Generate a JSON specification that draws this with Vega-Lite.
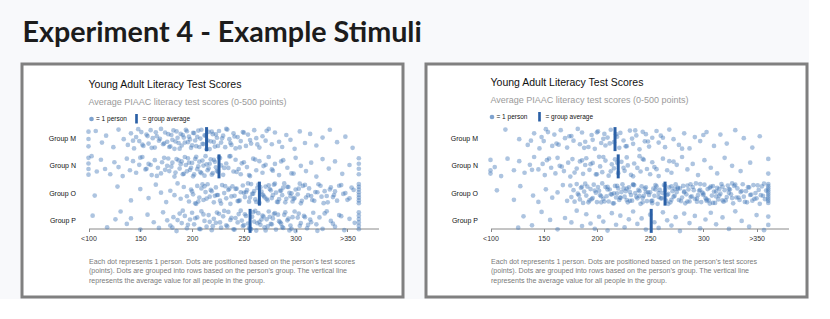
{
"$schema": "https://vega.github.io/schema/vega-lite/v6.json",
"background": "#f8f9fb",
"padding": {"left": 20, "top": 18, "right": 0, "bottom": 0},
"title": {"text": "Experiment 4 - Example Stimuli", "anchor": "start", "font": "Lato", "fontWeight": "bold", "fontSize": 28.7, "color": "#1c1c1c", "offset": 15, "dx": 2},
"spacing": 19,
"resolve": {"scale": {"x": "independent", "y": "independent", "color": "independent"}, "legend": {"color": "independent"}, "axis": {"x": "independent", "y": "independent"}},
"config": {"view": {"stroke": "#808080", "strokeWidth": 3, "fill": "#ffffff"}, "font": "Liberation Sans"},
"datasets": {
"LA": [{"g":"M","s":214},{"g":"N","s":226},{"g":"O","s":265},{"g":"P","s":256}],
"RA": [{"g":"M","s":217},{"g":"N","s":220},{"g":"O","s":264},{"g":"P","s":251}],
"L": [
{"g":"M","s":100,"j":0.15},{"g":"M","s":100,"j":0.5},{"g":"M","s":100,"j":0.85},{"g":"M","s":107,"j":0.12},{"g":"M","s":113,"j":0.67},{"g":"M","s":117,"j":0.34},{"g":"M","s":124,"j":0.89},{"g":"M","s":129,"j":0.05},{"g":"M","s":134,"j":0.51},{"g":"M","s":138,"j":0.78},{"g":"M","s":141,"j":0.23},{"g":"M","s":144,"j":0.95},{"g":"M","s":146,"j":0.41},{"g":"M","s":149,"j":0.60},{"g":"M","s":151,"j":0.17},{"g":"M","s":153,"j":0.83},{"g":"M","s":156,"j":0.29},{"g":"M","s":158,"j":0.72},{"g":"M","s":160,"j":0.08},{"g":"M","s":162,"j":0.46},{"g":"M","s":164,"j":0.91},{"g":"M","s":166,"j":0.37},{"g":"M","s":168,"j":0.58},{"g":"M","s":170,"j":0.02},{"g":"M","s":172,"j":0.75},{"g":"M","s":174,"j":0.19},{"g":"M","s":176,"j":0.63},{"g":"M","s":178,"j":0.88},{"g":"M","s":180,"j":0.31},{"g":"M","s":181,"j":0.54},{"g":"M","s":183,"j":0.97},{"g":"M","s":185,"j":0.14},{"g":"M","s":187,"j":0.69},{"g":"M","s":189,"j":0.26},{"g":"M","s":190,"j":0.81},{"g":"M","s":192,"j":0.43},{"g":"M","s":194,"j":0.06},{"g":"M","s":196,"j":0.65},{"g":"M","s":197,"j":0.39},{"g":"M","s":199,"j":0.92},{"g":"M","s":201,"j":0.21},{"g":"M","s":203,"j":0.57},{"g":"M","s":204,"j":0.84},{"g":"M","s":206,"j":0.10},{"g":"M","s":208,"j":0.48},{"g":"M","s":210,"j":0.73},{"g":"M","s":212,"j":0.33},{"g":"M","s":214,"j":0.99},{"g":"M","s":216,"j":0.16},{"g":"M","s":218,"j":0.61},{"g":"M","s":220,"j":0.27},{"g":"M","s":222,"j":0.86},{"g":"M","s":224,"j":0.44},{"g":"M","s":226,"j":0.12},{"g":"M","s":228,"j":0.67},{"g":"M","s":230,"j":0.34},{"g":"M","s":232,"j":0.89},{"g":"M","s":234,"j":0.05},{"g":"M","s":236,"j":0.51},{"g":"M","s":238,"j":0.78},{"g":"M","s":240,"j":0.23},{"g":"M","s":242,"j":0.95},{"g":"M","s":244,"j":0.41},{"g":"M","s":247,"j":0.60},{"g":"M","s":249,"j":0.17},{"g":"M","s":252,"j":0.83},{"g":"M","s":254,"j":0.29},{"g":"M","s":257,"j":0.72},{"g":"M","s":260,"j":0.08},{"g":"M","s":262,"j":0.46},{"g":"M","s":265,"j":0.91},{"g":"M","s":268,"j":0.37},{"g":"M","s":271,"j":0.58},{"g":"M","s":274,"j":0.02},{"g":"M","s":277,"j":0.75},{"g":"M","s":280,"j":0.19},{"g":"M","s":284,"j":0.63},{"g":"M","s":287,"j":0.88},{"g":"M","s":291,"j":0.31},{"g":"M","s":295,"j":0.54},{"g":"M","s":299,"j":0.97},{"g":"M","s":304,"j":0.14},{"g":"M","s":309,"j":0.69},{"g":"M","s":314,"j":0.26},{"g":"M","s":320,"j":0.81},{"g":"M","s":326,"j":0.43},{"g":"M","s":333,"j":0.06},{"g":"M","s":340,"j":0.65},{"g":"M","s":348,"j":0.39},{"g":"M","s":355,"j":0.92},
{"g":"M","s":143,"j":0.58},{"g":"M","s":148,"j":0.03},{"g":"M","s":152,"j":0.77},{"g":"M","s":157,"j":0.36},{"g":"M","s":161,"j":0.92},{"g":"M","s":165,"j":0.18},{"g":"M","s":169,"j":0.49},{"g":"M","s":173,"j":0.71},{"g":"M","s":177,"j":0.27},{"g":"M","s":179,"j":0.85},{"g":"M","s":182,"j":0.09},{"g":"M","s":184,"j":0.62},{"g":"M","s":186,"j":0.44},{"g":"M","s":188,"j":0.96},{"g":"M","s":191,"j":0.31},{"g":"M","s":193,"j":0.67},{"g":"M","s":195,"j":0.13},{"g":"M","s":198,"j":0.52},{"g":"M","s":200,"j":0.8},{"g":"M","s":202,"j":0.22},{"g":"M","s":205,"j":0.4},{"g":"M","s":207,"j":0.88},{"g":"M","s":209,"j":0.06},{"g":"M","s":211,"j":0.74},{"g":"M","s":213,"j":0.33},{"g":"M","s":215,"j":0.57},{"g":"M","s":217,"j":0.98},{"g":"M","s":219,"j":0.15},{"g":"M","s":221,"j":0.64},{"g":"M","s":223,"j":0.28},{"g":"M","s":225,"j":0.83},{"g":"M","s":229,"j":0.47},{"g":"M","s":233,"j":0.02},{"g":"M","s":237,"j":0.69},{"g":"M","s":241,"j":0.38},{"g":"M","s":246,"j":0.9},{"g":"M","s":250,"j":0.2},{"g":"M","s":256,"j":0.55},{"g":"M","s":263,"j":0.76},{"g":"M","s":272,"j":0.11},
{"g":"N","s":100,"j":0.1},{"g":"N","s":100,"j":0.37},{"g":"N","s":100,"j":0.63},{"g":"N","s":100,"j":0.9},{"g":"N","s":361,"j":0.12},{"g":"N","s":361,"j":0.38},{"g":"N","s":361,"j":0.62},{"g":"N","s":361,"j":0.88},
{"g":"N","s":103,"j":0.02},{"g":"N","s":108,"j":0.75},{"g":"N","s":112,"j":0.19},{"g":"N","s":116,"j":0.63},{"g":"N","s":121,"j":0.88},{"g":"N","s":125,"j":0.31},{"g":"N","s":129,"j":0.54},{"g":"N","s":133,"j":0.97},{"g":"N","s":137,"j":0.14},{"g":"N","s":140,"j":0.69},{"g":"N","s":143,"j":0.26},{"g":"N","s":146,"j":0.81},{"g":"N","s":149,"j":0.43},{"g":"N","s":152,"j":0.06},{"g":"N","s":155,"j":0.65},{"g":"N","s":158,"j":0.39},{"g":"N","s":161,"j":0.92},{"g":"N","s":164,"j":0.21},{"g":"N","s":167,"j":0.57},{"g":"N","s":170,"j":0.84},{"g":"N","s":173,"j":0.10},{"g":"N","s":176,"j":0.48},{"g":"N","s":178,"j":0.73},{"g":"N","s":181,"j":0.33},{"g":"N","s":183,"j":0.99},{"g":"N","s":185,"j":0.16},{"g":"N","s":188,"j":0.61},{"g":"N","s":190,"j":0.27},{"g":"N","s":192,"j":0.86},{"g":"N","s":194,"j":0.44},{"g":"N","s":196,"j":0.12},{"g":"N","s":198,"j":0.67},{"g":"N","s":200,"j":0.34},{"g":"N","s":202,"j":0.89},{"g":"N","s":204,"j":0.05},{"g":"N","s":206,"j":0.51},{"g":"N","s":208,"j":0.78},{"g":"N","s":210,"j":0.23},{"g":"N","s":212,"j":0.95},{"g":"N","s":214,"j":0.41},{"g":"N","s":216,"j":0.60},{"g":"N","s":218,"j":0.17},{"g":"N","s":220,"j":0.83},{"g":"N","s":222,"j":0.29},{"g":"N","s":224,"j":0.72},{"g":"N","s":226,"j":0.08},{"g":"N","s":228,"j":0.46},{"g":"N","s":230,"j":0.91},{"g":"N","s":233,"j":0.37},{"g":"N","s":235,"j":0.58},{"g":"N","s":237,"j":0.02},{"g":"N","s":240,"j":0.75},{"g":"N","s":242,"j":0.19},{"g":"N","s":245,"j":0.63},{"g":"N","s":247,"j":0.88},{"g":"N","s":250,"j":0.31},{"g":"N","s":253,"j":0.54},{"g":"N","s":256,"j":0.97},{"g":"N","s":259,"j":0.14},{"g":"N","s":262,"j":0.69},{"g":"N","s":265,"j":0.26},{"g":"N","s":268,"j":0.81},{"g":"N","s":271,"j":0.43},{"g":"N","s":274,"j":0.06},{"g":"N","s":277,"j":0.65},{"g":"N","s":280,"j":0.39},{"g":"N","s":284,"j":0.92},{"g":"N","s":288,"j":0.21},{"g":"N","s":292,"j":0.57},{"g":"N","s":296,"j":0.84},{"g":"N","s":300,"j":0.10},{"g":"N","s":305,"j":0.48},{"g":"N","s":310,"j":0.73},{"g":"N","s":315,"j":0.33},{"g":"N","s":320,"j":0.99},{"g":"N","s":326,"j":0.16},{"g":"N","s":332,"j":0.61},{"g":"N","s":338,"j":0.27},{"g":"N","s":345,"j":0.86},{"g":"N","s":352,"j":0.44},
{"g":"N","s":150,"j":0.09},{"g":"N","s":156,"j":0.62},{"g":"N","s":160,"j":0.44},{"g":"N","s":166,"j":0.96},{"g":"N","s":171,"j":0.31},{"g":"N","s":174,"j":0.67},{"g":"N","s":177,"j":0.13},{"g":"N","s":180,"j":0.52},{"g":"N","s":184,"j":0.8},{"g":"N","s":187,"j":0.22},{"g":"N","s":189,"j":0.4},{"g":"N","s":191,"j":0.88},{"g":"N","s":193,"j":0.06},{"g":"N","s":195,"j":0.74},{"g":"N","s":197,"j":0.33},{"g":"N","s":199,"j":0.57},{"g":"N","s":201,"j":0.98},{"g":"N","s":203,"j":0.15},{"g":"N","s":205,"j":0.64},{"g":"N","s":207,"j":0.28},{"g":"N","s":209,"j":0.83},{"g":"N","s":211,"j":0.47},{"g":"N","s":213,"j":0.02},{"g":"N","s":215,"j":0.69},{"g":"N","s":217,"j":0.38},{"g":"N","s":219,"j":0.9},{"g":"N","s":221,"j":0.2},{"g":"N","s":223,"j":0.55},{"g":"N","s":225,"j":0.76},{"g":"N","s":227,"j":0.11},{"g":"N","s":231,"j":0.58},{"g":"N","s":236,"j":0.03},{"g":"N","s":243,"j":0.77},{"g":"N","s":248,"j":0.36},{"g":"N","s":255,"j":0.92},{"g":"N","s":261,"j":0.18},{"g":"N","s":269,"j":0.49},{"g":"N","s":278,"j":0.71},{"g":"N","s":286,"j":0.27},{"g":"N","s":298,"j":0.85},
{"g":"O","s":106,"j":0.60},{"g":"O","s":128,"j":0.17},{"g":"O","s":141,"j":0.83},{"g":"O","s":150,"j":0.29},{"g":"O","s":158,"j":0.72},{"g":"O","s":165,"j":0.08},{"g":"O","s":170,"j":0.46},{"g":"O","s":175,"j":0.91},{"g":"O","s":179,"j":0.37},{"g":"O","s":183,"j":0.58},{"g":"O","s":186,"j":0.02},{"g":"O","s":189,"j":0.75},{"g":"O","s":192,"j":0.19},{"g":"O","s":195,"j":0.63},{"g":"O","s":197,"j":0.88},{"g":"O","s":199,"j":0.31},{"g":"O","s":201,"j":0.54},{"g":"O","s":203,"j":0.97},{"g":"O","s":205,"j":0.14},{"g":"O","s":207,"j":0.69},{"g":"O","s":209,"j":0.26},{"g":"O","s":211,"j":0.81},{"g":"O","s":213,"j":0.43},{"g":"O","s":215,"j":0.06},{"g":"O","s":217,"j":0.65},{"g":"O","s":219,"j":0.39},{"g":"O","s":221,"j":0.92},{"g":"O","s":223,"j":0.21},{"g":"O","s":225,"j":0.57},{"g":"O","s":227,"j":0.84},{"g":"O","s":229,"j":0.10},{"g":"O","s":231,"j":0.48},{"g":"O","s":233,"j":0.73},{"g":"O","s":235,"j":0.33},{"g":"O","s":237,"j":0.99},{"g":"O","s":239,"j":0.16},{"g":"O","s":241,"j":0.61},{"g":"O","s":243,"j":0.27},{"g":"O","s":245,"j":0.86},{"g":"O","s":247,"j":0.44},{"g":"O","s":249,"j":0.12},{"g":"O","s":251,"j":0.67},{"g":"O","s":253,"j":0.34},{"g":"O","s":255,"j":0.89},{"g":"O","s":257,"j":0.05},{"g":"O","s":259,"j":0.51},{"g":"O","s":261,"j":0.78},{"g":"O","s":263,"j":0.23},{"g":"O","s":265,"j":0.95},{"g":"O","s":267,"j":0.41},{"g":"O","s":269,"j":0.60},{"g":"O","s":271,"j":0.17},{"g":"O","s":273,"j":0.83},{"g":"O","s":275,"j":0.29},{"g":"O","s":277,"j":0.72},{"g":"O","s":279,"j":0.08},{"g":"O","s":281,"j":0.46},{"g":"O","s":283,"j":0.91},{"g":"O","s":285,"j":0.37},{"g":"O","s":287,"j":0.58},{"g":"O","s":289,"j":0.02},{"g":"O","s":291,"j":0.75},{"g":"O","s":293,"j":0.19},{"g":"O","s":295,"j":0.63},{"g":"O","s":297,"j":0.88},{"g":"O","s":300,"j":0.31},{"g":"O","s":302,"j":0.54},{"g":"O","s":305,"j":0.97},{"g":"O","s":307,"j":0.14},{"g":"O","s":310,"j":0.69},{"g":"O","s":313,"j":0.26},{"g":"O","s":316,"j":0.81},{"g":"O","s":319,"j":0.43},{"g":"O","s":322,"j":0.06},{"g":"O","s":325,"j":0.65},{"g":"O","s":328,"j":0.39},{"g":"O","s":331,"j":0.92},{"g":"O","s":334,"j":0.21},{"g":"O","s":337,"j":0.57},{"g":"O","s":340,"j":0.84},{"g":"O","s":344,"j":0.10},{"g":"O","s":348,"j":0.48},{"g":"O","s":352,"j":0.73},{"g":"O","s":356,"j":0.33},
{"g":"O","s":204,"j":0.99},{"g":"O","s":212,"j":0.16},{"g":"O","s":222,"j":0.61},{"g":"O","s":236,"j":0.27},{"g":"O","s":244,"j":0.86},{"g":"O","s":252,"j":0.44},{"g":"O","s":258,"j":0.52},{"g":"O","s":264,"j":0.07},{"g":"O","s":270,"j":0.68},{"g":"O","s":276,"j":0.35},{"g":"O","s":282,"j":0.9},{"g":"O","s":288,"j":0.22},{"g":"O","s":294,"j":0.47},{"g":"O","s":298,"j":0.76},{"g":"O","s":304,"j":0.03},{"g":"O","s":312,"j":0.58},{"g":"O","s":318,"j":0.85},{"g":"O","s":324,"j":0.13},{"g":"O","s":330,"j":0.62},{"g":"O","s":338,"j":0.4},
{"g":"O","s":200,"j":0.4},{"g":"O","s":206,"j":0.88},{"g":"O","s":210,"j":0.06},{"g":"O","s":214,"j":0.74},{"g":"O","s":218,"j":0.33},{"g":"O","s":224,"j":0.57},{"g":"O","s":228,"j":0.98},{"g":"O","s":232,"j":0.15},{"g":"O","s":238,"j":0.64},{"g":"O","s":242,"j":0.28},{"g":"O","s":246,"j":0.83},{"g":"O","s":250,"j":0.47},{"g":"O","s":254,"j":0.02},{"g":"O","s":256,"j":0.69},{"g":"O","s":260,"j":0.38},{"g":"O","s":262,"j":0.9},{"g":"O","s":266,"j":0.2},{"g":"O","s":268,"j":0.55},{"g":"O","s":272,"j":0.76},{"g":"O","s":274,"j":0.11},{"g":"O","s":278,"j":0.58},{"g":"O","s":280,"j":0.03},{"g":"O","s":284,"j":0.77},{"g":"O","s":286,"j":0.36},{"g":"O","s":290,"j":0.92},{"g":"O","s":292,"j":0.18},{"g":"O","s":296,"j":0.49},{"g":"O","s":299,"j":0.71},{"g":"O","s":303,"j":0.27},{"g":"O","s":306,"j":0.85},{"g":"O","s":309,"j":0.09},{"g":"O","s":315,"j":0.62},{"g":"O","s":321,"j":0.44},{"g":"O","s":327,"j":0.96},{"g":"O","s":333,"j":0.31},{"g":"O","s":336,"j":0.67},{"g":"O","s":342,"j":0.13},{"g":"O","s":346,"j":0.52},{"g":"O","s":350,"j":0.8},{"g":"O","s":354,"j":0.22},
{"g":"O","s":361,"j":0.05},{"g":"O","s":361,"j":0.18},{"g":"O","s":361,"j":0.31},{"g":"O","s":361,"j":0.44},{"g":"O","s":361,"j":0.57},{"g":"O","s":361,"j":0.7},{"g":"O","s":361,"j":0.83},{"g":"O","s":361,"j":0.96},
{"g":"P","s":104,"j":0.26},{"g":"P","s":118,"j":0.81},{"g":"P","s":126,"j":0.43},{"g":"P","s":131,"j":0.06},{"g":"P","s":137,"j":0.65},{"g":"P","s":141,"j":0.39},{"g":"P","s":150,"j":0.92},{"g":"P","s":157,"j":0.21},{"g":"P","s":163,"j":0.57},{"g":"P","s":168,"j":0.84},{"g":"P","s":172,"j":0.10},{"g":"P","s":176,"j":0.48},{"g":"P","s":179,"j":0.73},{"g":"P","s":182,"j":0.33},{"g":"P","s":185,"j":0.99},{"g":"P","s":188,"j":0.16},{"g":"P","s":190,"j":0.61},{"g":"P","s":193,"j":0.27},{"g":"P","s":195,"j":0.86},{"g":"P","s":198,"j":0.44},{"g":"P","s":200,"j":0.12},{"g":"P","s":202,"j":0.67},{"g":"P","s":205,"j":0.34},{"g":"P","s":207,"j":0.89},{"g":"P","s":209,"j":0.05},{"g":"P","s":212,"j":0.51},{"g":"P","s":214,"j":0.78},{"g":"P","s":216,"j":0.23},{"g":"P","s":219,"j":0.95},{"g":"P","s":221,"j":0.41},{"g":"P","s":223,"j":0.60},{"g":"P","s":226,"j":0.17},{"g":"P","s":228,"j":0.83},{"g":"P","s":230,"j":0.29},{"g":"P","s":233,"j":0.72},{"g":"P","s":235,"j":0.08},{"g":"P","s":237,"j":0.46},{"g":"P","s":240,"j":0.91},{"g":"P","s":242,"j":0.37},{"g":"P","s":244,"j":0.58},{"g":"P","s":247,"j":0.02},{"g":"P","s":249,"j":0.75},{"g":"P","s":251,"j":0.19},{"g":"P","s":254,"j":0.63},{"g":"P","s":256,"j":0.88},{"g":"P","s":258,"j":0.31},{"g":"P","s":260,"j":0.54},{"g":"P","s":262,"j":0.97},{"g":"P","s":264,"j":0.14},{"g":"P","s":266,"j":0.69},{"g":"P","s":268,"j":0.26},{"g":"P","s":270,"j":0.81},{"g":"P","s":272,"j":0.43},{"g":"P","s":274,"j":0.06},{"g":"P","s":276,"j":0.65},{"g":"P","s":278,"j":0.39},{"g":"P","s":281,"j":0.92},{"g":"P","s":283,"j":0.21},{"g":"P","s":285,"j":0.57},{"g":"P","s":288,"j":0.84},{"g":"P","s":290,"j":0.10},{"g":"P","s":292,"j":0.48},{"g":"P","s":295,"j":0.73},{"g":"P","s":297,"j":0.33},{"g":"P","s":300,"j":0.99},{"g":"P","s":303,"j":0.16},{"g":"P","s":305,"j":0.61},{"g":"P","s":308,"j":0.27},{"g":"P","s":311,"j":0.86},{"g":"P","s":314,"j":0.44},{"g":"P","s":317,"j":0.12},{"g":"P","s":320,"j":0.67},{"g":"P","s":323,"j":0.34},{"g":"P","s":326,"j":0.89},{"g":"P","s":330,"j":0.05},{"g":"P","s":334,"j":0.51},{"g":"P","s":338,"j":0.78},{"g":"P","s":342,"j":0.23},{"g":"P","s":347,"j":0.95},{"g":"P","s":352,"j":0.41},{"g":"P","s":357,"j":0.60},
{"g":"P","s":257,"j":0.9},{"g":"P","s":261,"j":0.03},{"g":"P","s":265,"j":0.55},{"g":"P","s":269,"j":0.3},{"g":"P","s":273,"j":0.77},{"g":"P","s":279,"j":0.18},{"g":"P","s":286,"j":0.64},{"g":"P","s":294,"j":0.96},{"g":"P","s":302,"j":0.35},{"g":"P","s":312,"j":0.7},
{"g":"P","s":181,"j":0.83},{"g":"P","s":186,"j":0.47},{"g":"P","s":191,"j":0.02},{"g":"P","s":196,"j":0.69},{"g":"P","s":203,"j":0.38},{"g":"P","s":208,"j":0.9},{"g":"P","s":211,"j":0.2},{"g":"P","s":217,"j":0.55},{"g":"P","s":220,"j":0.76},{"g":"P","s":224,"j":0.11},{"g":"P","s":227,"j":0.58},{"g":"P","s":231,"j":0.03},{"g":"P","s":234,"j":0.77},{"g":"P","s":238,"j":0.36},{"g":"P","s":241,"j":0.92},{"g":"P","s":245,"j":0.18},{"g":"P","s":248,"j":0.49},{"g":"P","s":250,"j":0.71},{"g":"P","s":252,"j":0.27},{"g":"P","s":255,"j":0.85},{"g":"P","s":259,"j":0.09},{"g":"P","s":263,"j":0.62},{"g":"P","s":267,"j":0.44},{"g":"P","s":271,"j":0.96},{"g":"P","s":275,"j":0.31},{"g":"P","s":277,"j":0.67},{"g":"P","s":280,"j":0.13},{"g":"P","s":284,"j":0.52},{"g":"P","s":287,"j":0.8},{"g":"P","s":289,"j":0.22},{"g":"P","s":293,"j":0.4},{"g":"P","s":296,"j":0.88},{"g":"P","s":299,"j":0.06},{"g":"P","s":304,"j":0.74},{"g":"P","s":309,"j":0.33},{"g":"P","s":315,"j":0.57},{"g":"P","s":321,"j":0.98},{"g":"P","s":328,"j":0.15},{"g":"P","s":336,"j":0.64},{"g":"P","s":344,"j":0.28},
{"g":"P","s":361,"j":0.1},{"g":"P","s":361,"j":0.26},{"g":"P","s":361,"j":0.42},{"g":"P","s":361,"j":0.58},{"g":"P","s":361,"j":0.74},{"g":"P","s":361,"j":0.9}
],
"R": [
{"g":"M","s":114,"j":0.05},{"g":"M","s":127,"j":0.51},{"g":"M","s":135,"j":0.78},{"g":"M","s":141,"j":0.23},{"g":"M","s":146,"j":0.95},{"g":"M","s":148,"j":0.41},{"g":"M","s":150,"j":0.60},{"g":"M","s":154,"j":0.17},{"g":"M","s":158,"j":0.83},{"g":"M","s":160,"j":0.29},{"g":"M","s":162,"j":0.72},{"g":"M","s":166,"j":0.08},{"g":"M","s":170,"j":0.46},{"g":"M","s":172,"j":0.91},{"g":"M","s":174,"j":0.37},{"g":"M","s":178,"j":0.58},{"g":"M","s":182,"j":0.02},{"g":"M","s":184,"j":0.75},{"g":"M","s":186,"j":0.19},{"g":"M","s":189,"j":0.63},{"g":"M","s":192,"j":0.88},{"g":"M","s":195,"j":0.31},{"g":"M","s":196,"j":0.54},{"g":"M","s":198,"j":0.97},{"g":"M","s":201,"j":0.14},{"g":"M","s":204,"j":0.69},{"g":"M","s":207,"j":0.26},{"g":"M","s":208,"j":0.81},{"g":"M","s":210,"j":0.43},{"g":"M","s":213,"j":0.06},{"g":"M","s":216,"j":0.65},{"g":"M","s":219,"j":0.39},{"g":"M","s":221,"j":0.92},{"g":"M","s":222,"j":0.21},{"g":"M","s":225,"j":0.57},{"g":"M","s":228,"j":0.84},{"g":"M","s":231,"j":0.10},{"g":"M","s":233,"j":0.48},{"g":"M","s":234,"j":0.73},{"g":"M","s":237,"j":0.33},{"g":"M","s":240,"j":0.99},{"g":"M","s":243,"j":0.16},{"g":"M","s":245,"j":0.61},{"g":"M","s":246,"j":0.27},{"g":"M","s":249,"j":0.86},{"g":"M","s":252,"j":0.44},{"g":"M","s":256,"j":0.12},{"g":"M","s":258,"j":0.67},{"g":"M","s":260,"j":0.34},{"g":"M","s":264,"j":0.89},{"g":"M","s":268,"j":0.05},{"g":"M","s":272,"j":0.51},{"g":"M","s":277,"j":0.78},{"g":"M","s":282,"j":0.23},{"g":"M","s":287,"j":0.95},{"g":"M","s":292,"j":0.41},{"g":"M","s":297,"j":0.60},{"g":"M","s":303,"j":0.17},{"g":"M","s":310,"j":0.83},{"g":"M","s":316,"j":0.29},{"g":"M","s":322,"j":0.72},{"g":"M","s":330,"j":0.08},{"g":"M","s":338,"j":0.46},{"g":"M","s":346,"j":0.91},{"g":"M","s":353,"j":0.37},
{"g":"M","s":138,"j":0.58},{"g":"M","s":152,"j":0.03},{"g":"M","s":164,"j":0.77},{"g":"M","s":176,"j":0.36},{"g":"M","s":188,"j":0.92},{"g":"M","s":200,"j":0.18},{"g":"M","s":206,"j":0.49},{"g":"M","s":212,"j":0.71},{"g":"M","s":218,"j":0.27},{"g":"M","s":227,"j":0.85},{"g":"M","s":236,"j":0.09},{"g":"M","s":248,"j":0.62},{"g":"M","s":262,"j":0.44},{"g":"M","s":280,"j":0.96},{"g":"M","s":300,"j":0.31},
{"g":"N","s":100,"j":0.2},{"g":"N","s":100,"j":0.7},{"g":"N","s":100,"j":0.85},{"g":"N","s":361,"j":0.15},{"g":"N","s":361,"j":0.85},
{"g":"N","s":104,"j":0.54},{"g":"N","s":110,"j":0.97},{"g":"N","s":116,"j":0.14},{"g":"N","s":122,"j":0.69},{"g":"N","s":127,"j":0.26},{"g":"N","s":132,"j":0.81},{"g":"N","s":137,"j":0.43},{"g":"N","s":141,"j":0.06},{"g":"N","s":145,"j":0.65},{"g":"N","s":149,"j":0.39},{"g":"N","s":151,"j":0.92},{"g":"N","s":153,"j":0.21},{"g":"N","s":157,"j":0.57},{"g":"N","s":161,"j":0.84},{"g":"N","s":163,"j":0.10},{"g":"N","s":165,"j":0.48},{"g":"N","s":169,"j":0.73},{"g":"N","s":173,"j":0.33},{"g":"N","s":175,"j":0.99},{"g":"N","s":177,"j":0.16},{"g":"N","s":181,"j":0.61},{"g":"N","s":184,"j":0.27},{"g":"N","s":187,"j":0.86},{"g":"N","s":189,"j":0.44},{"g":"N","s":190,"j":0.12},{"g":"N","s":193,"j":0.67},{"g":"N","s":196,"j":0.34},{"g":"N","s":199,"j":0.89},{"g":"N","s":202,"j":0.05},{"g":"N","s":203,"j":0.51},{"g":"N","s":205,"j":0.78},{"g":"N","s":208,"j":0.23},{"g":"N","s":211,"j":0.95},{"g":"N","s":214,"j":0.41},{"g":"N","s":216,"j":0.60},{"g":"N","s":217,"j":0.17},{"g":"N","s":220,"j":0.83},{"g":"N","s":223,"j":0.29},{"g":"N","s":226,"j":0.72},{"g":"N","s":228,"j":0.08},{"g":"N","s":229,"j":0.46},{"g":"N","s":232,"j":0.91},{"g":"N","s":235,"j":0.37},{"g":"N","s":238,"j":0.58},{"g":"N","s":240,"j":0.02},{"g":"N","s":241,"j":0.75},{"g":"N","s":244,"j":0.19},{"g":"N","s":247,"j":0.63},{"g":"N","s":250,"j":0.88},{"g":"N","s":252,"j":0.31},{"g":"N","s":254,"j":0.54},{"g":"N","s":258,"j":0.97},{"g":"N","s":262,"j":0.14},{"g":"N","s":266,"j":0.69},{"g":"N","s":268,"j":0.26},{"g":"N","s":270,"j":0.81},{"g":"N","s":275,"j":0.43},{"g":"N","s":280,"j":0.06},{"g":"N","s":285,"j":0.65},{"g":"N","s":290,"j":0.39},{"g":"N","s":295,"j":0.92},{"g":"N","s":301,"j":0.21},{"g":"N","s":307,"j":0.57},{"g":"N","s":313,"j":0.84},{"g":"N","s":320,"j":0.10},{"g":"N","s":327,"j":0.48},{"g":"N","s":335,"j":0.73},{"g":"N","s":344,"j":0.33},
{"g":"N","s":139,"j":0.67},{"g":"N","s":155,"j":0.13},{"g":"N","s":167,"j":0.52},{"g":"N","s":179,"j":0.8},{"g":"N","s":186,"j":0.22},{"g":"N","s":194,"j":0.4},{"g":"N","s":200,"j":0.88},{"g":"N","s":206,"j":0.06},{"g":"N","s":213,"j":0.74},{"g":"N","s":219,"j":0.33},{"g":"N","s":225,"j":0.57},{"g":"N","s":234,"j":0.98},{"g":"N","s":243,"j":0.15},{"g":"N","s":256,"j":0.64},{"g":"N","s":272,"j":0.28},
{"g":"O","s":106,"j":0.35},{"g":"O","s":122,"j":0.8},{"g":"O","s":128,"j":0.15},{"g":"O","s":140,"j":0.6},{"g":"O","s":145,"j":0.9},{"g":"O","s":152,"j":0.3},{"g":"O","s":158,"j":0.7},{"g":"O","s":163,"j":0.45},{"g":"O","s":168,"j":0.1},{"g":"O","s":172,"j":0.85},
{"g":"O","s":175,"j":0.12},{"g":"O","s":176,"j":0.67},{"g":"O","s":178,"j":0.34},{"g":"O","s":179,"j":0.89},{"g":"O","s":181,"j":0.05},{"g":"O","s":182,"j":0.51},{"g":"O","s":184,"j":0.78},{"g":"O","s":185,"j":0.23},{"g":"O","s":187,"j":0.95},{"g":"O","s":188,"j":0.41},{"g":"O","s":190,"j":0.60},{"g":"O","s":191,"j":0.17},{"g":"O","s":193,"j":0.83},{"g":"O","s":194,"j":0.29},{"g":"O","s":196,"j":0.72},{"g":"O","s":197,"j":0.08},{"g":"O","s":199,"j":0.46},{"g":"O","s":200,"j":0.91},{"g":"O","s":202,"j":0.37},{"g":"O","s":203,"j":0.58},{"g":"O","s":205,"j":0.02},{"g":"O","s":206,"j":0.75},{"g":"O","s":208,"j":0.19},{"g":"O","s":209,"j":0.63},{"g":"O","s":211,"j":0.88},{"g":"O","s":212,"j":0.31},{"g":"O","s":214,"j":0.54},{"g":"O","s":215,"j":0.97},{"g":"O","s":217,"j":0.14},{"g":"O","s":218,"j":0.69},{"g":"O","s":220,"j":0.26},{"g":"O","s":221,"j":0.81},{"g":"O","s":223,"j":0.43},{"g":"O","s":224,"j":0.06},{"g":"O","s":226,"j":0.65},{"g":"O","s":227,"j":0.39},{"g":"O","s":229,"j":0.92},{"g":"O","s":230,"j":0.21},{"g":"O","s":232,"j":0.57},{"g":"O","s":233,"j":0.84},{"g":"O","s":235,"j":0.10},{"g":"O","s":236,"j":0.48},{"g":"O","s":238,"j":0.73},{"g":"O","s":239,"j":0.33},{"g":"O","s":241,"j":0.99},{"g":"O","s":242,"j":0.16},{"g":"O","s":244,"j":0.61},{"g":"O","s":245,"j":0.27},{"g":"O","s":247,"j":0.86},{"g":"O","s":248,"j":0.44},
{"g":"O","s":250,"j":0.44},{"g":"O","s":251,"j":0.86},{"g":"O","s":253,"j":0.27},{"g":"O","s":254,"j":0.61},{"g":"O","s":256,"j":0.16},{"g":"O","s":257,"j":0.99},{"g":"O","s":259,"j":0.33},{"g":"O","s":260,"j":0.73},{"g":"O","s":262,"j":0.48},{"g":"O","s":263,"j":0.10},{"g":"O","s":265,"j":0.84},{"g":"O","s":266,"j":0.57},{"g":"O","s":268,"j":0.21},{"g":"O","s":269,"j":0.92},{"g":"O","s":271,"j":0.39},{"g":"O","s":272,"j":0.65},{"g":"O","s":274,"j":0.06},{"g":"O","s":275,"j":0.43},{"g":"O","s":277,"j":0.81},{"g":"O","s":278,"j":0.26},{"g":"O","s":280,"j":0.69},{"g":"O","s":281,"j":0.14},{"g":"O","s":283,"j":0.97},{"g":"O","s":284,"j":0.54},{"g":"O","s":286,"j":0.31},{"g":"O","s":287,"j":0.88},{"g":"O","s":289,"j":0.63},{"g":"O","s":290,"j":0.19},{"g":"O","s":292,"j":0.75},{"g":"O","s":293,"j":0.02},{"g":"O","s":295,"j":0.58},{"g":"O","s":296,"j":0.37},{"g":"O","s":298,"j":0.91},{"g":"O","s":299,"j":0.46},{"g":"O","s":301,"j":0.08},{"g":"O","s":302,"j":0.72},{"g":"O","s":304,"j":0.29},{"g":"O","s":305,"j":0.83},{"g":"O","s":307,"j":0.17},{"g":"O","s":308,"j":0.60},{"g":"O","s":310,"j":0.41},{"g":"O","s":311,"j":0.95},{"g":"O","s":313,"j":0.23},{"g":"O","s":314,"j":0.78},{"g":"O","s":316,"j":0.51},{"g":"O","s":317,"j":0.05},{"g":"O","s":319,"j":0.89},{"g":"O","s":320,"j":0.34},{"g":"O","s":322,"j":0.67},{"g":"O","s":323,"j":0.12},
{"g":"O","s":325,"j":0.31},{"g":"O","s":326,"j":0.54},{"g":"O","s":328,"j":0.97},{"g":"O","s":329,"j":0.14},{"g":"O","s":331,"j":0.69},{"g":"O","s":332,"j":0.26},{"g":"O","s":334,"j":0.81},{"g":"O","s":335,"j":0.43},{"g":"O","s":337,"j":0.06},{"g":"O","s":338,"j":0.65},{"g":"O","s":340,"j":0.39},{"g":"O","s":341,"j":0.92},{"g":"O","s":343,"j":0.21},{"g":"O","s":344,"j":0.57},{"g":"O","s":346,"j":0.84},{"g":"O","s":347,"j":0.10},{"g":"O","s":349,"j":0.48},{"g":"O","s":350,"j":0.73},{"g":"O","s":352,"j":0.33},{"g":"O","s":353,"j":0.99},{"g":"O","s":355,"j":0.16},{"g":"O","s":356,"j":0.61},
{"g":"O","s":201,"j":0.19},{"g":"O","s":204,"j":0.63},{"g":"O","s":207,"j":0.88},{"g":"O","s":210,"j":0.31},{"g":"O","s":213,"j":0.54},{"g":"O","s":216,"j":0.97},{"g":"O","s":219,"j":0.14},{"g":"O","s":222,"j":0.69},{"g":"O","s":225,"j":0.26},{"g":"O","s":228,"j":0.81},{"g":"O","s":231,"j":0.43},{"g":"O","s":234,"j":0.06},{"g":"O","s":237,"j":0.65},{"g":"O","s":240,"j":0.39},{"g":"O","s":243,"j":0.92},{"g":"O","s":246,"j":0.21},{"g":"O","s":249,"j":0.57},{"g":"O","s":252,"j":0.84},{"g":"O","s":255,"j":0.10},{"g":"O","s":258,"j":0.48},{"g":"O","s":261,"j":0.73},{"g":"O","s":264,"j":0.33},{"g":"O","s":267,"j":0.99},{"g":"O","s":270,"j":0.16},{"g":"O","s":273,"j":0.61},{"g":"O","s":276,"j":0.27},{"g":"O","s":279,"j":0.86},{"g":"O","s":282,"j":0.44},{"g":"O","s":285,"j":0.12},{"g":"O","s":288,"j":0.67},{"g":"O","s":291,"j":0.34},{"g":"O","s":294,"j":0.89},{"g":"O","s":297,"j":0.05},{"g":"O","s":300,"j":0.51},{"g":"O","s":303,"j":0.78},{"g":"O","s":306,"j":0.23},{"g":"O","s":309,"j":0.95},{"g":"O","s":312,"j":0.41},{"g":"O","s":315,"j":0.60},{"g":"O","s":318,"j":0.17},{"g":"O","s":321,"j":0.83},{"g":"O","s":324,"j":0.29},{"g":"O","s":327,"j":0.72},{"g":"O","s":330,"j":0.08},
{"g":"O","s":183,"j":0.58},{"g":"O","s":189,"j":0.03},{"g":"O","s":195,"j":0.77},{"g":"O","s":198,"j":0.36},{"g":"O","s":204,"j":0.92},{"g":"O","s":210,"j":0.18},{"g":"O","s":216,"j":0.49},{"g":"O","s":222,"j":0.71},{"g":"O","s":228,"j":0.27},{"g":"O","s":231,"j":0.85},{"g":"O","s":234,"j":0.09},{"g":"O","s":240,"j":0.62},{"g":"O","s":246,"j":0.44},{"g":"O","s":252,"j":0.96},{"g":"O","s":255,"j":0.31},{"g":"O","s":258,"j":0.67},{"g":"O","s":264,"j":0.13},{"g":"O","s":267,"j":0.52},{"g":"O","s":270,"j":0.8},{"g":"O","s":276,"j":0.22},{"g":"O","s":282,"j":0.4},{"g":"O","s":285,"j":0.88},{"g":"O","s":288,"j":0.06},{"g":"O","s":294,"j":0.74},{"g":"O","s":297,"j":0.33},{"g":"O","s":300,"j":0.57},{"g":"O","s":306,"j":0.98},{"g":"O","s":309,"j":0.15},{"g":"O","s":312,"j":0.64},{"g":"O","s":315,"j":0.28},{"g":"O","s":318,"j":0.83},{"g":"O","s":324,"j":0.47},{"g":"O","s":327,"j":0.02},{"g":"O","s":333,"j":0.69},{"g":"O","s":336,"j":0.38},{"g":"O","s":339,"j":0.9},{"g":"O","s":342,"j":0.2},{"g":"O","s":345,"j":0.55},{"g":"O","s":348,"j":0.76},{"g":"O","s":351,"j":0.11},{"g":"O","s":354,"j":0.58},{"g":"O","s":357,"j":0.03},{"g":"O","s":358,"j":0.77},{"g":"O","s":359,"j":0.36},{"g":"O","s":192,"j":0.92},{"g":"O","s":186,"j":0.18},{"g":"O","s":219,"j":0.49},{"g":"O","s":243,"j":0.71},{"g":"O","s":273,"j":0.27},{"g":"O","s":303,"j":0.85},
{"g":"O","s":361,"j":0.05},{"g":"O","s":361,"j":0.15},{"g":"O","s":361,"j":0.25},{"g":"O","s":361,"j":0.35},{"g":"O","s":361,"j":0.45},{"g":"O","s":361,"j":0.55},{"g":"O","s":361,"j":0.65},{"g":"O","s":361,"j":0.75},{"g":"O","s":361,"j":0.85},{"g":"O","s":361,"j":0.95},
{"g":"P","s":126,"j":0.83},{"g":"P","s":131,"j":0.29},{"g":"P","s":139,"j":0.72},{"g":"P","s":148,"j":0.08},{"g":"P","s":156,"j":0.46},{"g":"P","s":163,"j":0.91},{"g":"P","s":170,"j":0.37},{"g":"P","s":176,"j":0.58},{"g":"P","s":181,"j":0.02},{"g":"P","s":186,"j":0.75},{"g":"P","s":190,"j":0.19},{"g":"P","s":194,"j":0.63},{"g":"P","s":198,"j":0.88},{"g":"P","s":202,"j":0.31},{"g":"P","s":206,"j":0.54},{"g":"P","s":210,"j":0.97},{"g":"P","s":214,"j":0.14},{"g":"P","s":218,"j":0.69},{"g":"P","s":222,"j":0.26},{"g":"P","s":226,"j":0.81},{"g":"P","s":230,"j":0.43},{"g":"P","s":234,"j":0.06},{"g":"P","s":238,"j":0.65},{"g":"P","s":242,"j":0.39},{"g":"P","s":246,"j":0.92},{"g":"P","s":250,"j":0.21},{"g":"P","s":254,"j":0.57},{"g":"P","s":258,"j":0.84},{"g":"P","s":262,"j":0.10},{"g":"P","s":266,"j":0.48},{"g":"P","s":270,"j":0.73},{"g":"P","s":274,"j":0.33},{"g":"P","s":278,"j":0.99},{"g":"P","s":282,"j":0.16},{"g":"P","s":287,"j":0.61},{"g":"P","s":292,"j":0.27},{"g":"P","s":297,"j":0.86},{"g":"P","s":302,"j":0.44},{"g":"P","s":307,"j":0.12},{"g":"P","s":312,"j":0.67},{"g":"P","s":318,"j":0.34},{"g":"P","s":324,"j":0.89},{"g":"P","s":330,"j":0.05},{"g":"P","s":336,"j":0.51},{"g":"P","s":343,"j":0.78},{"g":"P","s":350,"j":0.23},{"g":"P","s":357,"j":0.95},{"g":"P","s":361,"j":0.3},{"g":"P","s":361,"j":0.7}
]
},
"hconcat": [
{
"width": 381, "height": 233,
"title": {"text": "Young Adult Literacy Test Scores", "subtitle": "Average PIAAC literacy test scores (0-500 points)", "anchor": "start", "frame": "group", "dx": 66.5, "offset": -42.5, "font": "Liberation Sans", "fontSize": 10.5, "fontWeight": "normal", "color": "#111111", "subtitleFont": "Liberation Sans", "subtitleFontSize": 9, "subtitleColor": "#9a9a9a", "subtitlePadding": 7},
"resolve": {"scale": {"color": "independent"}, "legend": {"color": "independent"}},
"layer": [
{"data": {"name": "L"}, "mark": {"type": "circle", "size": 22, "opacity": 0.42},
"encoding": {
"x": {"field": "s", "type": "quantitative", "scale": {"domain": [100, 361], "range": [66.5, 356.5]},
"axis": {"values": [100,150,200,250,300,350], "labelExpr": "datum.value == 100 ? '<100' : datum.value == 350 ? '>350' : datum.label", "offset": -68.5, "grid": false, "domainColor": "#8a8a8a", "tickColor": "#8a8a8a", "tickSize": 3, "labelFontSize": 7, "labelColor": "#333333", "labelPadding": 3, "labelFlush": false, "title": ["Each dot represents 1 person. Dots are positioned based on the person’s test scores", "(points). Dots are grouped into rows based on the person’s group. The vertical line", "represents the average value for all people in the group."], "titleAnchor": "start", "titleAlign": "left", "titleBaseline": "top", "titleFontSize": 7.1, "titleFontWeight": "normal", "titleColor": "#7a7a7a", "titlePadding": 16, "titleLineHeight": 9.3}},
"y": {"field": "g", "type": "nominal", "scale": {"domain": ["M","N","O","P"], "range": [61.5, 170.5], "paddingInner": 0, "paddingOuter": 0},
"axis": {"title": null, "domain": false, "ticks": false, "labelPadding": 0, "offset": -53.5, "labelFontSize": 7, "labelColor": "#111111", "labelExpr": "'Group ' + datum.label"}},
"yOffset": {"field": "j", "type": "quantitative", "scale": {"domain": [0, 1], "range": [3, 24]}},
"color": {"datum": "= 1 person", "type": "nominal", "scale": {"domain": ["= 1 person"], "range": ["#3b72b6"]},
"legend": {"orient": "none", "legendX": 66, "legendY": 51.5, "title": null, "labelFontSize": 6.5, "labelColor": "#111111", "symbolType": "circle", "symbolSize": 22, "symbolOpacity": 0.65, "labelOffset": 1}}
}},
{"data": {"name": "LA"}, "mark": {"type": "tick", "orient": "vertical", "thickness": 3, "size": 24, "opacity": 1},
"encoding": {"x": {"field": "s", "type": "quantitative"}, "y": {"field": "g", "type": "nominal"},
"color": {"datum": "= group average", "type": "nominal", "scale": {"domain": ["= group average"], "range": ["#2b60a6"]},
"legend": {"orient": "none", "legendX": 109.5, "legendY": 49.75, "title": null, "labelFontSize": 6.5, "labelColor": "#111111", "symbolType": "M-0.28,-1H0.28V1H-0.28Z", "symbolSize": 90, "symbolOpacity": 1, "symbolStrokeWidth": 0, "symbolFillColor": "#2b60a6", "labelOffset": 1}}}}
]
},
{
"width": 381, "height": 233,
"title": {"text": "Young Adult Literacy Test Scores", "subtitle": "Average PIAAC literacy test scores (0-500 points)", "anchor": "start", "frame": "group", "dx": 64.5, "offset": -40.5, "font": "Liberation Sans", "fontSize": 10.5, "fontWeight": "normal", "color": "#111111", "subtitleFont": "Liberation Sans", "subtitleFontSize": 9, "subtitleColor": "#9a9a9a", "subtitlePadding": 7},
"resolve": {"scale": {"color": "independent"}, "legend": {"color": "independent"}},
"layer": [
{"data": {"name": "R"}, "mark": {"type": "circle", "size": 22, "opacity": 0.42},
"encoding": {
"x": {"field": "s", "type": "quantitative", "scale": {"domain": [100, 361], "range": [64.5, 362.5]},
"axis": {"values": [100,150,200,250,300,350], "labelExpr": "datum.value == 100 ? '<100' : datum.value == 350 ? '>350' : datum.label", "offset": -68.5, "grid": false, "domainColor": "#8a8a8a", "tickColor": "#8a8a8a", "tickSize": 3, "labelFontSize": 7, "labelColor": "#333333", "labelPadding": 3, "labelFlush": false, "title": ["Each dot represents 1 person. Dots are positioned based on the person’s test scores", "(points). Dots are grouped into rows based on the person’s group. The vertical line", "represents the average value for all people in the group."], "titleAnchor": "start", "titleAlign": "left", "titleBaseline": "top", "titleFontSize": 7.1, "titleFontWeight": "normal", "titleColor": "#7a7a7a", "titlePadding": 16, "titleLineHeight": 9.3}},
"y": {"field": "g", "type": "nominal", "scale": {"domain": ["M","N","O","P"], "range": [61.5, 170.5], "paddingInner": 0, "paddingOuter": 0},
"axis": {"title": null, "domain": false, "ticks": false, "labelPadding": 0, "offset": -51.5, "labelFontSize": 7, "labelColor": "#111111", "labelExpr": "'Group ' + datum.label"}},
"yOffset": {"field": "j", "type": "quantitative", "scale": {"domain": [0, 1], "range": [3, 24]}},
"color": {"datum": "= 1 person", "type": "nominal", "scale": {"domain": ["= 1 person"], "range": ["#3b72b6"]},
"legend": {"orient": "none", "legendX": 62.5, "legendY": 49.5, "title": null, "labelFontSize": 6.5, "labelColor": "#111111", "symbolType": "circle", "symbolSize": 22, "symbolOpacity": 0.65, "labelOffset": 1}}
}},
{"data": {"name": "RA"}, "mark": {"type": "tick", "orient": "vertical", "thickness": 3, "size": 24, "opacity": 1},
"encoding": {"x": {"field": "s", "type": "quantitative"}, "y": {"field": "g", "type": "nominal"},
"color": {"datum": "= group average", "type": "nominal", "scale": {"domain": ["= group average"], "range": ["#2b60a6"]},
"legend": {"orient": "none", "legendX": 108.5, "legendY": 47.75, "title": null, "labelFontSize": 6.5, "labelColor": "#111111", "symbolType": "M-0.28,-1H0.28V1H-0.28Z", "symbolSize": 90, "symbolOpacity": 1, "symbolStrokeWidth": 0, "symbolFillColor": "#2b60a6", "labelOffset": 1}}}}
]
}
]
}
